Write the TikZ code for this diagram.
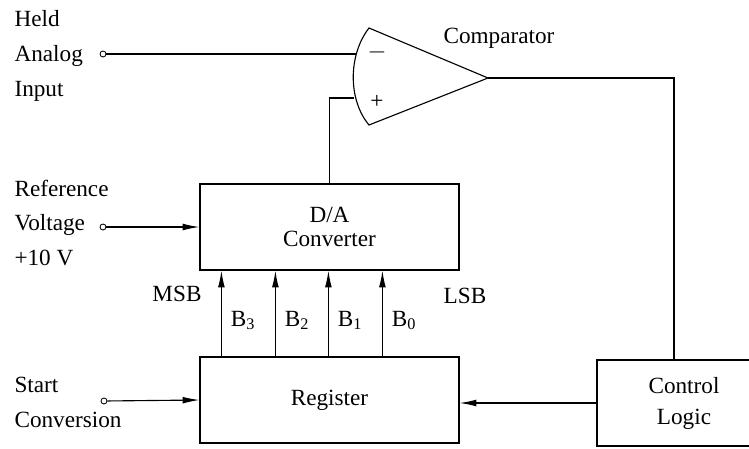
\documentclass[tikz,border=0pt]{standalone}
\usepackage{fontspec}
\setmainfont{Liberation Serif}
\usetikzlibrary{arrows.meta,calc}

\begin{document}
\begin{tikzpicture}[x=0.025cm,y=-0.025cm,line width=0.8pt,
  every node/.style={font=\fontsize{16.5}{17.7}\selectfont},
  blk/.style={draw,rectangle,minimum width=6.475cm,minimum height=2.15cm,align=center},
  term/.style={draw,circle,inner sep=0pt,minimum size=0.15cm,line width=0.6pt},
  side/.style={anchor=west,inner sep=0pt,align=left,font=\fontsize{16.5}{24.8}\selectfont},
  sig/.style={-{Latex[length=0.42cm,width=0.17cm]}}]
  \useasboundingbox (0,0) rectangle (749,448);

  % blocks
  \node[blk] (dac) at (329.5,227) {D/A\\Converter};
  \node[blk] (reg) at (329.5,400) {Register};
  \node[blk,minimum width=4.35cm,font=\fontsize{16.5}{22}\selectfont] (ctrl) at (684,403) {Control\\Logic};

  % comparator
  \coordinate (ctop) at (369,28);
  \coordinate (cbot) at (369,125);
  \coordinate (cout) at (488,78);
  \coordinate (cminus) at (356,54);
  \coordinate (cplus) at (354,98);
  \draw (ctop) .. controls (348,55) and (348,100) .. (cbot) -- (cout) -- cycle;
  \node (mi) at (377,52) {$-$};
  \node (pl) at (377,102) {+};
  \node (cmp) at (499,38) {Comparator};

  % inputs
  \node[side] (held) at (14,56) {Held\\Analog\\Input};
  \node[side] (ref) at (14,223) {Reference\\Voltage\\+10 V};
  \node[side] (start) at (14,402) {Start\\Conversion};
  \node[term] (inA) at (103,54) {};
  \node[term] (inR) at (103,227) {};
  \node[term] (inS) at (104,401) {};

  \coordinate (cdown) at ($(ctrl.north)+(-10,0)$);
  \draw (inA) -- (cminus);
  \draw[sig] (inR) -- (dac.west);
  \draw[sig] (inS) -- (reg.west);
  \draw (dac.north) |- (cplus);
  \draw (cout) -| (cdown);
  \draw[sig] (ctrl.west) -- (ctrl.west -| reg.east);

  % bit lines
  \foreach \dx/\b in {22/3,76/2,129/1,183/0}{
    \draw[sig] ($(reg.north west)+(\dx,0)$) -- ($(dac.south west)+(\dx,0)$);
    \node[anchor=west,inner sep=0pt] (b\b) at ($(dac.south west)+(\dx+9,50)$) {B\textsubscript{\b}};
  }
  \node (msb) at (177,294) {MSB};
  \node (lsb) at (465,296) {LSB};
\end{tikzpicture}
\end{document}
